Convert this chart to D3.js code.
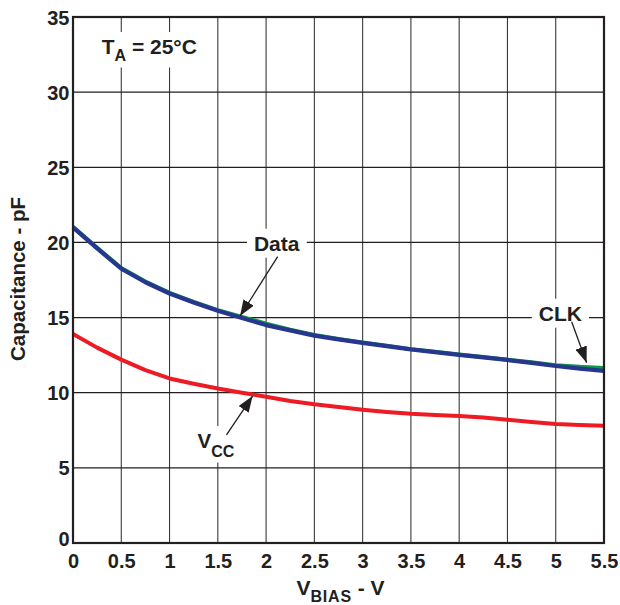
<!DOCTYPE html>
<html><head><meta charset="utf-8">
<script src="https://cdn.jsdelivr.net/npm/d3@7"></script>
<style>
html,body{margin:0;padding:0;background:#fff;}
svg text{font-family:"Liberation Sans",Arial,sans-serif;font-weight:bold;fill:#231f20;}
</style></head>
<body>
<svg id="chart" width="620" height="605"></svg>
<script>
// ---- data ----
const vbias = [0,0.25,0.5,0.75,1,1.25,1.5,1.75,2,2.25,2.5,2.75,3,3.25,3.5,3.75,4,4.25,4.5,4.75,5,5.25,5.5];
const capClk  = [21.05,19.65,18.3,17.4,16.65,16.05,15.5,15.05,14.6,14.2,13.85,13.58,13.35,13.12,12.9,12.72,12.55,12.38,12.2,12.02,11.83,11.72,11.65];
const capData = [21.0,19.6,18.25,17.35,16.6,16.0,15.45,14.97,14.5,14.15,13.8,13.55,13.32,13.1,12.88,12.7,12.52,12.35,12.18,11.98,11.78,11.6,11.45];
const capVcc  = [13.9,13.0,12.2,11.5,10.95,10.6,10.28,10.0,9.73,9.45,9.23,9.05,8.87,8.72,8.6,8.52,8.45,8.35,8.2,8.05,7.92,7.85,7.8];
const xTicks = [0,0.5,1,1.5,2,2.5,3,3.5,4,4.5,5,5.5];
const yTicks = [0,5,10,15,20,25,30,35];
const xTickLabels = ["0","0.5","1","1.5","2","2.5","3","3.5","4","4.5","5","5.5"];
const yTickLabels = ["0","5","10","15","20","25","30","35"];
// annotations in data units: label anchor, arrow start, arrow tip
const annotations = [
  {name:"Data", lx:2.11, ly:19.45, sx:2.12, sy:19.05, tx:1.73, ty:15.1},
  {name:"CLK",  lx:5.048, ly:14.79, sx:5.165, sy:14.72, tx:5.32, ty:12.0},
  {name:"VCC",  lx:1.29, ly:6.32, sx:1.59, sy:7.19, tx:1.86, ty:9.78}
];

// ---- layout ----
const svg = d3.select("#chart");
const L = 73, R = 604, T = 17, B = 543;
const x = d3.scaleLinear().domain([0,5.5]).range([L,R]);
const y = d3.scaleLinear().domain([0,35]).range([B,T]);

// arrow marker
svg.append("defs").append("marker")
  .attr("id","arr").attr("markerUnits","userSpaceOnUse")
  .attr("viewBox","0 0 16 12").attr("refX",16).attr("refY",6)
  .attr("markerWidth",16).attr("markerHeight",12).attr("orient","auto")
  .append("path").attr("d","M0,0 L16,6 L0,12 Z").attr("fill","#231f20");

// gridlines
const g = svg.append("g");
g.selectAll(".vg").data(xTicks.filter(d=>d>0&&d<5.5)).enter().append("line")
  .attr("x1",d=>x(d)).attr("x2",d=>x(d)).attr("y1",T).attr("y2",B)
  .attr("stroke","#3a3a3a").attr("stroke-width",1.1);
g.selectAll(".hg").data(yTicks.filter(d=>d>0&&d<35)).enter().append("line")
  .attr("x1",L).attr("x2",R).attr("y1",d=>y(d)).attr("y2",d=>y(d))
  .attr("stroke","#231f20").attr("stroke-width",1.3);

const boxLayer = svg.append("g");
const lineLayer = svg.append("g");
const annoLayer = svg.append("g");

// frame
svg.append("rect").attr("x",L).attr("y",T).attr("width",R-L).attr("height",B-T)
  .attr("fill","none").attr("stroke","#231f20").attr("stroke-width",2.2);

// series
const line = (arr)=>d3.line().x((d,i)=>x(vbias[i])).y(d=>y(d))(arr);
lineLayer.append("path").attr("d",line(capClk)).attr("fill","none")
  .attr("stroke","#0f9a48").attr("stroke-width",4).attr("stroke-linejoin","round");
lineLayer.append("path").attr("d",line(capData)).attr("fill","none")
  .attr("stroke","#27378f").attr("stroke-width",4.2).attr("stroke-linejoin","round");
lineLayer.append("path").attr("d",line(capVcc)).attr("fill","none")
  .attr("stroke","#ed1c24").attr("stroke-width",4).attr("stroke-linejoin","round");

// axes
const xAxis = svg.append("g").attr("transform",`translate(0,${B})`)
  .call(d3.axisBottom(x).tickValues(xTicks).tickSize(0).tickPadding(0)
    .tickFormat((d,i)=>xTickLabels[i]));
xAxis.select(".domain").remove();
xAxis.selectAll("text").attr("y",25).attr("dy",0).attr("font-size",20);

const yAxis = svg.append("g").attr("transform",`translate(${L},0)`)
  .call(d3.axisLeft(y).tickValues(yTicks).tickSize(0).tickPadding(5)
    .tickFormat((d,i)=>yTickLabels[i]));
yAxis.select(".domain").remove();
yAxis.selectAll("text").attr("font-size",20).attr("x",-3.5).attr("dy",d=>d===0?"0.1em":"0.35em");

// axis titles
svg.append("text").attr("transform","translate(25,279) rotate(-90)")
  .attr("text-anchor","middle").attr("font-size",20.5).text("Capacitance - pF");
const xt = svg.append("text").attr("x",(L+R)/2+2).attr("y",595).attr("text-anchor","middle").attr("font-size",21);
xt.append("tspan").text("V");
xt.append("tspan").attr("font-size",16).attr("letter-spacing",0.8).attr("dy",6.5).text("BIAS");
xt.append("tspan").attr("dy",-6.5).text(" - V");

// TA label
const ta = annoLayer.append("text").attr("x",x(0.297)).attr("y",y(32.54)).attr("font-size",21);
ta.append("tspan").text("T");
ta.append("tspan").attr("font-size",16).attr("dy",7.5).text("A");
ta.append("tspan").attr("dy",-7.5).text(" = 25°C");

// annotations
annotations.forEach(a=>{
  annoLayer.append("line").attr("x1",x(a.sx)).attr("y1",y(a.sy)).attr("x2",x(a.tx)).attr("y2",y(a.ty))
    .attr("stroke","#231f20").attr("stroke-width",1.3).attr("marker-end","url(#arr)");
  let t;
  if(a.name==="VCC"){
    t = annoLayer.append("text").attr("x",x(a.lx)).attr("y",y(a.ly)).attr("font-size",20.5);
    t.append("tspan").text("V");
    t.append("tspan").attr("font-size",16).attr("dy",8.5).text("CC");
  } else {
    t = annoLayer.append("text").attr("x",x(a.lx)).attr("y",y(a.ly)).attr("text-anchor","middle").attr("font-size",21).text(a.name);
  }
});

// white boxes behind labels
annoLayer.selectAll("text").each(function(){
  const b = this.getBBox();
  boxLayer.append("rect").attr("x",b.x-7).attr("y",b.y-3).attr("width",b.width+14).attr("height",b.height+6).attr("fill","#fff");
});
</script>
</body></html>
